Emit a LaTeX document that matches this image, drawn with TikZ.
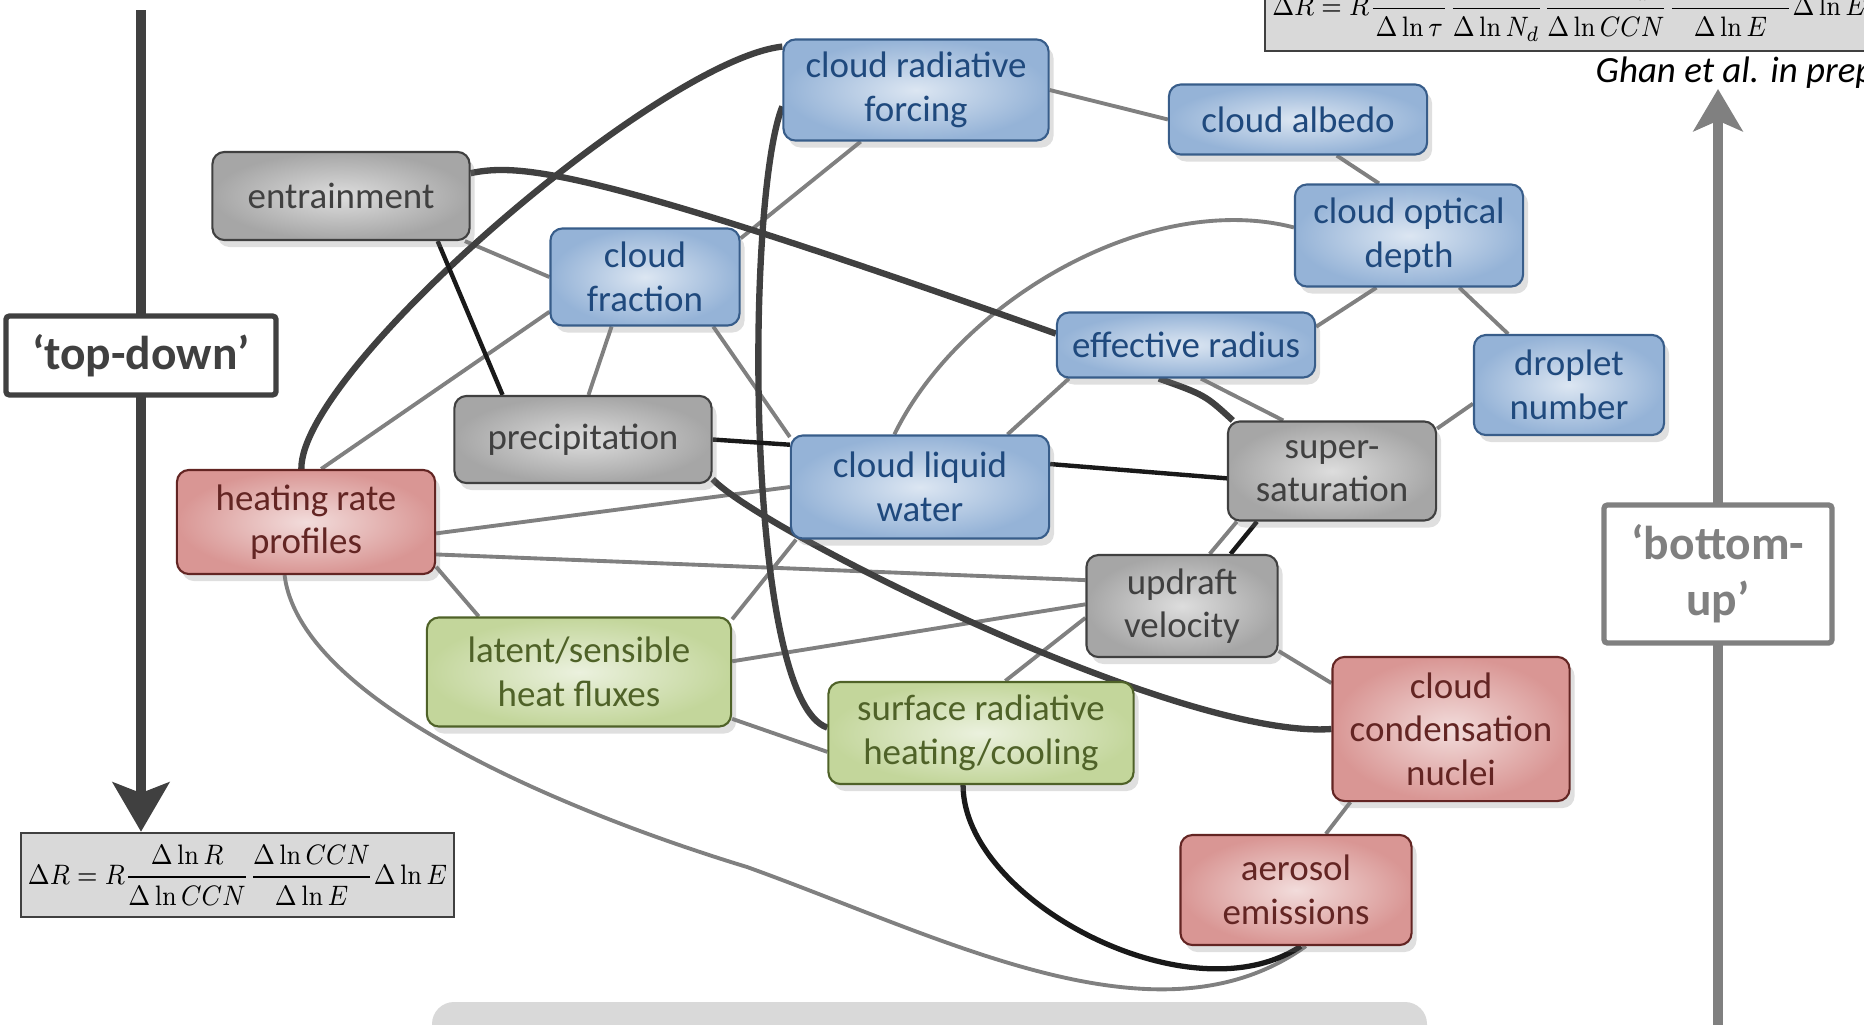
\documentclass[tikz,border=0pt]{standalone}
\usepackage[no-math]{fontspec}
\setmainfont{Carlito}
\usetikzlibrary{arrows.meta,shadows,backgrounds}

\definecolor{blueout}{HTML}{95B3D7}
\definecolor{bluein}{HTML}{DCE6F2}
\definecolor{blueedge}{HTML}{385D8A}
\definecolor{bluetext}{HTML}{1F497D}
\definecolor{grayout}{HTML}{A6A6A6}
\definecolor{grayin}{HTML}{DDDDDD}
\definecolor{grayedge}{HTML}{404040}
\definecolor{redout}{HTML}{D99694}
\definecolor{redin}{HTML}{F2DCDB}
\definecolor{rededge}{HTML}{632523}
\definecolor{greenout}{HTML}{C3D69B}
\definecolor{greenin}{HTML}{EBF1DE}
\definecolor{greenedge}{HTML}{4F6228}
\definecolor{darkline}{HTML}{404040}
\definecolor{lightline}{HTML}{808080}
\definecolor{eqfill}{HTML}{D9D9D9}

\begin{document}
\begin{tikzpicture}[x=0.01cm, y=-0.01cm,
    varbox/.style={draw, line width=0.6pt, rounded corners=0.12cm, align=center, inner sep=2pt,
      font=\fontsize{10.5}{12.4}\selectfont,
      drop shadow={shadow xshift=0.5mm, shadow yshift=-0.7mm, opacity=0.25}},
    bluebox/.style={varbox, draw=blueedge, inner color=bluein, outer color=blueout, text=bluetext},
    graybox/.style={varbox, draw=grayedge, inner color=grayin, outer color=grayout, text=grayedge},
    redbox/.style={varbox, draw=rededge, inner color=redin, outer color=redout, text=rededge},
    greenbox/.style={varbox, draw=greenedge, inner color=greenin, outer color=greenout, text=greenedge},
    eqbox/.style={draw=darkline, fill=eqfill, line width=0.7pt, inner sep=2pt,
      font=\fontsize{8.2}{9.8}\selectfont},
    gline/.style={lightline, line width=1.1pt},
    dline/.style={darkline, line width=1.8pt},
    kline/.style={black!90, line width=1.25pt},
    tdarrow/.style={darkline, line width=3pt, -{Stealth[length=14pt, width=16pt, inset=3pt]}},
    buarrow/.style={lightline, line width=3pt, -{Stealth[length=12pt, width=14pt, inset=3pt]}},
    tdbox/.style={draw=darkline, fill=white, line width=1.5pt, rounded corners=1pt,
      text=darkline, font=\fontsize{13.5}{16}\selectfont\bfseries},
    bubox/.style={draw=lightline, fill=white, line width=1.5pt, rounded corners=1pt, align=center,
      text=lightline, font=\fontsize{13.5}{16}\selectfont\bfseries}]
  \useasboundingbox (0,0) rectangle (1864,1024);
  \clip (0,0) rectangle (1864,1024);

  \fill[eqfill, rounded corners=0.22cm] (432,1002) rectangle (1427,1080);

  % equations and the two arrows
  \node[eqbox, anchor=south west, minimum height=0.84cm] (eqtop) at (1264,52)
    {\scalebox{0.88}[1]{$\displaystyle \Delta R = R\frac{\Delta\ln R}{\Delta\ln\tau}\frac{\Delta\ln\tau}{\Delta\ln N_d}\frac{\Delta\ln N_d}{\Delta\ln CCN}\frac{\Delta\ln CCN}{\Delta\ln E}\Delta\ln E$}};
  \node[anchor=west, inner sep=0pt, font=\fontsize{10.5}{12}\selectfont\itshape] (ghan) at (1595,73) {Ghan et al. in prep.};
  \node[eqbox, minimum width=4.33cm, minimum height=0.84cm] (eqbot) at (237.5,875)
    {\scalebox{0.88}[1]{$\displaystyle \Delta R = R\frac{\Delta\ln R}{\Delta\ln CCN}\frac{\Delta\ln CCN}{\Delta\ln E}\Delta\ln E$}};

  \coordinate (tdtop) at (141,10);
  \draw[tdarrow] (tdtop) -- (tdtop |- eqbot.north);
  \node[tdbox, minimum width=2.70cm, minimum height=0.79cm] (topdown) at (141,355.5) {‘top-down’};

  \coordinate (bubase) at (1718,1040);
  \coordinate (butip) at (1718,89);
  \draw[buarrow] (bubase) -- (butip);
  \node[bubox, minimum width=2.28cm, minimum height=1.38cm] (bottomup) at (1718,574) {‘bottom-\\up’};

  % variables
  \node[bluebox, minimum width=2.65cm, minimum height=1.01cm] (crf) at (916,90) {cloud radiative\\forcing};
  \node[bluebox, minimum width=2.58cm, minimum height=0.70cm] (albedo) at (1298,119.5) {cloud albedo};
  \node[graybox, minimum width=2.57cm, minimum height=0.88cm] (entrain) at (341,196) {entrainment};
  \node[bluebox, minimum width=1.89cm, minimum height=0.97cm] (cfrac) at (645,277) {cloud\\fraction};
  \node[bluebox, minimum width=2.28cm, minimum height=1.02cm] (optdepth) at (1409,235.5) {cloud optical\\depth};
  \node[bluebox, minimum width=2.58cm, minimum height=0.65cm] (effrad) at (1186,345) {effective radius};
  \node[bluebox, minimum width=1.90cm, minimum height=1.00cm] (dropnum) at (1569,385) {droplet\\number};
  \node[graybox, minimum width=2.57cm, minimum height=0.87cm] (precip) at (583,439.5) {precipitation};
  \node[bluebox, minimum width=2.58cm, minimum height=1.03cm] (lwc) at (920,487) {cloud liquid\\water};
  \node[graybox, minimum width=2.08cm, minimum height=0.99cm] (supersat) at (1332,471) {super-\\saturation};
  \node[redbox, minimum width=2.58cm, minimum height=1.04cm] (heatrate) at (306,522) {heating rate\\profiles};
  \node[graybox, minimum width=1.91cm, minimum height=1.02cm] (updraft) at (1182,606) {updraft\\velocity};
  \node[greenbox, minimum width=3.04cm, minimum height=1.09cm] (fluxes) at (579,672) {latent/sensible\\heat fluxes};
  \node[greenbox, minimum width=3.05cm, minimum height=1.02cm] (surfrad) at (981,733) {surface radiative\\heating/cooling};
  \node[redbox, minimum width=2.37cm, minimum height=1.44cm] (ccn) at (1451,729) {cloud\\condensation\\nuclei};
  \node[redbox, minimum width=2.31cm, minimum height=1.10cm] (aerosol) at (1296,890) {aerosol\\emissions};

  \begin{scope}[on background layer]
    % grey links
    \draw[gline] (crf.east) -- (albedo.west);
    \draw[gline] (albedo.-43) -- (optdepth.120);
    \draw[gline] (crf.223) -- (cfrac.22);
    \draw[gline] (entrain.-20) -- (cfrac.west);
    \draw[gline] (cfrac.200) -- (heatrate.74);
    \draw[gline] (cfrac.236) -- (precip.83);
    \draw[gline] (cfrac.-36) -- (lwc.159);
    \draw[gline] (optdepth.238) -- (effrad.8);
    \draw[gline] (optdepth.-46) -- (dropnum.140);
    \draw[gline] (effrad.196) -- (lwc.31);
    \draw[gline] (effrad.-66) -- (supersat.134);
    \draw[gline] (optdepth.176) .. controls (1150,190) and (960,300) .. (lwc.116);
    \draw[gline] (dropnum.191) -- (supersat.22);
    \draw[gline] (supersat.208) -- (updraft.62);
    \draw[gline] (heatrate.-5) -- (lwc.west);
    \draw[gline] (heatrate.-14) -- (updraft.165);
    \draw[gline] (heatrate.-19) -- (fluxes.151);
    \draw[gline] (heatrate.248) .. controls (300,700) and (560,810) .. (747,867)
      .. controls (947,939) and (1158,1052) .. (aerosol.-80);
    \draw[gline] (fluxes.4) -- (updraft.179);
    \draw[gline] (fluxes.-17) -- (surfrad.187);
    \draw[gline] (fluxes.19) -- (lwc.203);
    \draw[gline] (surfrad.65) -- (updraft.187);
    \draw[gline] (updraft.-25) -- (ccn.159);
    \draw[gline] (ccn.216) -- (aerosol.62);
    % dark links
    \draw[dline] (entrain.10) .. controls (520,163) and (590,168) .. (effrad.175);
    \draw[dline] (crf.162) .. controls (660,60) and (300,370) .. (heatrate.95);
    \draw[dline] (crf.187) .. controls (745,200) and (745,700) .. (surfrad.178);
    \draw[dline] (precip.-17) .. controls (760,530) and (1180,740) .. (ccn.west);
    \draw[dline] (effrad.231) .. controls (1205,395) .. (supersat.153);
    \draw[kline] (entrain.-25) -- (precip.151);
    \draw[kline] (precip.east) -- (lwc.162);
    \draw[kline] (lwc.10) -- (supersat.184);
    \draw[kline] (supersat.214) -- (updraft.47);
    \draw[kline, line width=1.5pt] (surfrad.251) .. controls (963,900) and (1190,1020) .. (aerosol.-85);
  \end{scope}
\end{tikzpicture}
\end{document}
